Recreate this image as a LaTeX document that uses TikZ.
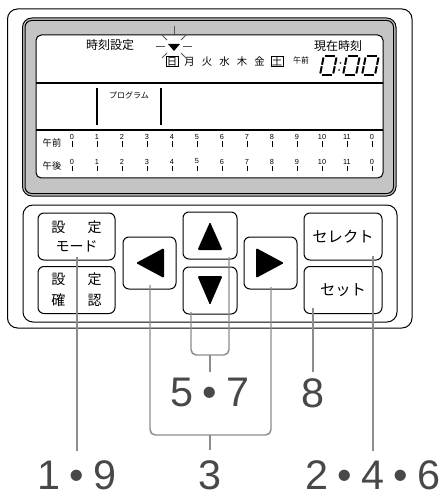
\documentclass[tikz,border=0pt]{standalone}
\usepackage{fontspec}
\newfontfamily\jpfont{Noto Sans CJK JP}
\newfontfamily\numfont{Liberation Sans}
\usetikzlibrary{positioning,calc}

\definecolor{lcdgray}{RGB}{196,196,196}
\definecolor{leadgray}{RGB}{140,140,140}
\definecolor{numgray}{RGB}{72,72,72}
\definecolor{raygray}{RGB}{85,85,85}

\tikzset{every picture/.style={line width=0.75pt}}
\tikzset{
  btn/.style={draw, rounded corners=4.5pt, inner sep=0pt, align=center},
  lcdtxt/.style={inner sep=0pt, font=\jpfont\fontsize{9}{10}\selectfont},
  daytxt/.style={inner sep=0.6pt, font=\jpfont\fontsize{7.8}{8}\selectfont},
  ticknum/.style={inner sep=0pt, font=\numfont\fontsize{5.5}{5.5}\selectfont},
  leader/.style={draw=leadgray, line width=1.1pt},
  bignum/.style={inner sep=0pt, text=numgray, font=\numfont\fontsize{31}{34}\selectfont},
}

\begin{document}
\begin{tikzpicture}[x=0.75pt,y=0.75pt,yscale=-1,xscale=1]
\useasboundingbox (0,0) rectangle (446,495);

%Body
\draw [rounded corners=7.5pt] (7.5,9) rectangle (412,328);
%LCD frame
\draw [fill=lcdgray, rounded corners=7pt] (22.5,18) rectangle (396,196);
\draw [rounded corners=5pt] (25,20.5) rectangle (393.5,193.5);
%LCD window
\draw [fill=white, rounded corners=4pt] (36,35) rectangle (383,178);
\draw [line width=1.5pt] (36,83) -- (383,83);
\draw [line width=1.5pt] (36,130) -- (383,130);
\draw [line width=1.1pt] (97,88) -- (97,125);
\draw [line width=1.1pt] (161,88) -- (161,125);

% Text Node
\node [lcdtxt] (tset) at (110,45) {時刻設定};
% Text Node
\node [lcdtxt] (tnow) at (338,46) {現在時刻};
% Text Node
\node [lcdtxt, font=\jpfont\fontsize{6}{6}\selectfont] (tprog) at (129,95) {プログラム};

%Flashing cursor
\draw [raygray] (174,26) -- (174,34);
\draw [raygray] (161,34) -- (167,40);
\draw [raygray] (187,34) -- (181,40);
\draw [raygray] (156,47) -- (165,47);
\draw [raygray] (183,47) -- (192,47);
\draw [raygray] (162,58) -- (167,53);
\draw [raygray] (186,58) -- (181,53);
\fill (168,44) -- (180,44) -- (174,51) -- cycle;

%Days
\node [daytxt, draw] (dsun) at (172,61.5) {日};
\node [daytxt] (dmon) at (189.5,61.5) {月};
\node [daytxt] (dtue) at (207,61.5) {火};
\node [daytxt] (dwed) at (224.5,61.5) {水};
\node [daytxt] (dthu) at (242,61.5) {木};
\node [daytxt] (dfri) at (259.5,61.5) {金};
\node [daytxt, draw] (dsat) at (277,61.5) {土};
\node [lcdtxt, font=\jpfont\fontsize{6}{6}\selectfont] (tam) at (301,60) {午前};

%Clock digits
\begin{scope}[shift={(320,75)}, xslant=-0.2, line width=1.5pt]
\foreach \u in {0,23,42}{
  \draw (\u,-1.5) -- (\u,-8.8);
  \draw (\u,-10.2) -- (\u,-17.5);
  \draw (\u+13,-1.5) -- (\u+13,-8.8);
  \draw (\u+13,-10.2) -- (\u+13,-17.5);
  \draw (\u+1.5,-19) -- (\u+11.5,-19);
  \draw (\u+1.5,0) -- (\u+11.5,0);
}
\fill (18,-5) circle (0.9);
\fill (18,-12) circle (0.9);
\end{scope}

%Time scale
\node [lcdtxt, font=\jpfont\fontsize{7}{7}\selectfont] (lam) at (52,143) {午前};
\node [lcdtxt, font=\jpfont\fontsize{7}{7}\selectfont] (lpm) at (52,166) {午後};
\foreach \h [count=\i from 0] in {0,1,2,3,4,5,6,7,8,9,10,11,0}{
  \node [ticknum] (am\i) at ({72+25*\i},137) {\h};
  \draw ({72+25*\i},141.5) -- ({72+25*\i},147);
  \node [ticknum] (pm\i) at ({72+25*\i},161.5) {\h};
  \draw ({72+25*\i},166) -- ({72+25*\i},171.5);
}

%Key panel
\draw [rounded corners=7.5pt] (23,205) rectangle (397,322);

\node [btn, minimum width=57.75pt, minimum height=35.25pt, font=\jpfont\fontsize{10.5}{14.5}\selectfont] (mode) at (76.5,236.5) {設\hspace{1.6em}定\\モード};
\node [btn, minimum width=57.75pt, minimum height=35.25pt, font=\jpfont\fontsize{10.5}{16}\selectfont] (check) at (76.5,290) {設\hspace{1.6em}定\\確\hspace{1.6em}認};
\node [btn, minimum width=39.75pt, minimum height=39pt] (left) at (149.5,263) {};
\node [btn, minimum width=40.5pt, minimum height=35.25pt] (up) at (210,235.5) {};
\node [btn, minimum width=40.5pt, minimum height=35.25pt] (down) at (210,290.5) {};
\node [btn, minimum width=39.75pt, minimum height=39pt] (right) at (270.5,263) {};
\node [btn, minimum width=58.5pt, minimum height=35.25pt, font=\jpfont\fontsize{11.5}{14}\selectfont] (select) at (343,236.5) {セレクト};
\node [btn, minimum width=58.5pt, minimum height=35.25pt, font=\jpfont\fontsize{11.5}{14}\selectfont] (set) at (343,290) {セット};

%Arrow keys
\fill [rounded corners=1pt] ($(up)+(0,-13.5)$) -- ($(up)+(-12.5,14.5)$) -- ($(up)+(12.5,14.5)$) -- cycle;
\fill [rounded corners=1pt] ($(down)+(0,14.5)$) -- ($(down)+(-12.5,-14.5)$) -- ($(down)+(12.5,-14.5)$) -- cycle;
\fill [rounded corners=1pt] ($(left)+(-13.5,0)$) -- ($(left)+(14.5,-15)$) -- ($(left)+(14.5,15)$) -- cycle;
\fill [rounded corners=1pt] ($(right)+(13.5,0)$) -- ($(right)+(-14.5,-15)$) -- ($(right)+(-14.5,15)$) -- cycle;

%Leader lines
\coordinate (pmode) at (77,257);
\coordinate (pleft) at (150,285);
\coordinate (pdown) at (191,312);
\coordinate (pup) at (229,257);
\coordinate (pright) at (271,287);
\coordinate (pset) at (313,308);
\coordinate (pselect) at (373,256);

\coordinate (c19) at (77,451);
\coordinate (c3) at (210,435);
\coordinate (c3e) at (210,450);
\coordinate (c57) at (210,355);
\coordinate (c57e) at (210,372);
\coordinate (c8) at (313,372);
\coordinate (c246) at (373,451);

\draw [leader] (pmode) -- (c19);
\draw [leader, rounded corners=4pt] (pleft) -- (pleft |- c3) -- (pright |- c3) -- (pright);
\draw [leader] (c3) -- (c3e);
\draw [leader, rounded corners=4pt] (pdown) -- (pdown |- c57) -- (pup |- c57) -- (pup);
\draw [leader] (c57) -- (c57e);
\draw [leader] (pset) -- (c8);
\draw [leader] (pselect) -- (c246);

% Text Node
\node [bignum, below=7pt of c19] (n19) {1\hspace{0.22em}•\hspace{0.22em}9};
% Text Node
\node [bignum, below=7.5pt of c3e] (n3) {3};
% Text Node
\node [bignum, below=4.5pt of c57e] (n57) {5\hspace{0.22em}•\hspace{0.22em}7};
% Text Node
\node [bignum, below=4.5pt of c8] (n8) {8};
% Text Node
\node [bignum, below=7pt of c246] (n246) {2\hspace{0.22em}•\hspace{0.22em}4\hspace{0.22em}•\hspace{0.22em}6};

\end{tikzpicture}
\end{document}
